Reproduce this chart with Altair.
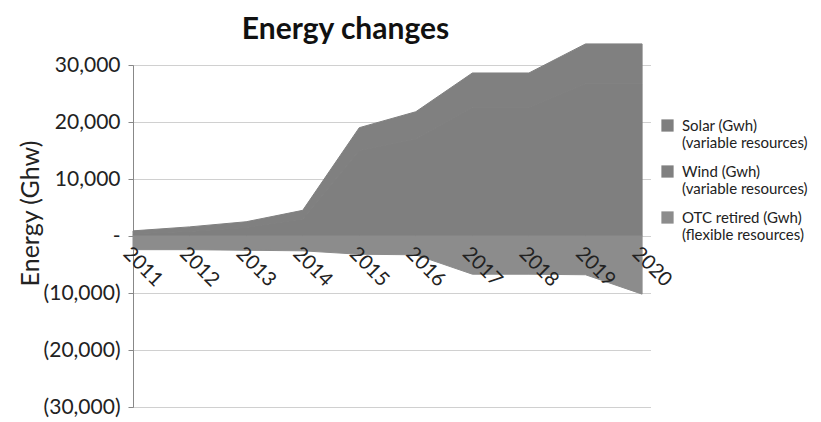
import altair as alt
import pandas as pd

years = [2011, 2012, 2013, 2014, 2015, 2016, 2017, 2018, 2019, 2020]
series = ["Solar (Gwh)", "Wind (Gwh)", "OTC retired (Gwh)"]
subtitles = ["(variable resources)", "(variable resources)", "(flexible resources)"]
solar = [400, 800, 1500, 3000, 15000, 17000, 22600, 22600, 26700, 26700]
wind = [500, 800, 1000, 1500, 4000, 4800, 6000, 6000, 7000, 7000]
otc = [-2400, -2400, -2500, -2600, -3200, -3300, -6700, -6700, -6800, -10200]
colors = ["#7f7f7f", "#808080", "#8c8c8c"]

rows = []
for i, y in enumerate(years):
    for k, (name, vals) in enumerate(zip(series, [solar, wind, otc])):
        rows.append({"year": y, "series": name, "value": vals[i], "order": k})
df = pd.DataFrame(rows)

FONT = "Lato"

label_expr = " : ".join(
    [f"datum.label == '{s}' ? ['{s}', '{t}']" for s, t in zip(series, subtitles)]
) + " : datum.label"

y_label_expr = (
    "datum.value == 0 ? '-\u00a0\u00a0\u00a0\u00a0' : "
    "datum.value < 0 ? '(' + format(-datum.value, ',') + ')' : format(datum.value, ',')"
)

color_scale = alt.Scale(domain=series, range=colors)

area = alt.Chart(df).mark_area(line=False, opacity=1, strokeWidth=1).encode(
    x=alt.X(
        "year:Q",
        scale=alt.Scale(domain=[2011, 2020.14], nice=False, zero=False),
        axis=alt.Axis(
            values=years,
            format="d",
            title=None,
            grid=False,
            domain=False,
            ticks=False,
            offset=-172,
            zindex=1,
            labelAngle=45,
            labelAlign="left",
            labelBaseline="top",
            labelPadding=8,
            labelFontSize=20,
            labelFont=FONT,
            labelColor="#222222",
            labelOverlap=False,
        ),
    ),
    y=alt.Y(
        "value:Q",
        stack="zero",
        scale=alt.Scale(domain=[-30000, 30000], nice=False),
        axis=alt.Axis(
            values=[-30000, -20000, -10000, 0, 10000, 20000, 30000],
            labelExpr=y_label_expr,
            title="Energy (Ghw)",
            titleFont=FONT,
            titleFontSize=25,
            titleFontWeight="normal",
            titleColor="#222222",
            titleAngle=-90,
            titleX=-103,
            titleY=148,
            titleAlign="center",
            titleBaseline="middle",
            labelFont=FONT,
            labelFontSize=21,
            labelColor="#222222",
            labelPadding=8,
            tickSize=5,
            tickColor="#888888",
            domainColor="#888888",
            gridColor="#a0a0a0",
            gridDash=[1, 1],
        ),
    ),
    color=alt.Color(
        "series:N",
        scale=color_scale,
        legend=alt.Legend(
            title=None,
            orient="none",
            legendX=527,
            legendY=53,
            symbolType="square",
            symbolSize=150,
            symbolStrokeWidth=0,
            labelFont=FONT,
            labelFontSize=15,
            labelColor="#222222",
            labelExpr=label_expr,
            labelLimit=300,
            labelOffset=7,
            rowPadding=13,
        ),
    ),
    stroke=alt.Stroke("series:N", scale=color_scale, legend=None),
    order=alt.Order("order:Q"),
)

chart = area.properties(
    width=517,
    height=342,
    padding={"left": 125, "top": 57, "right": 163, "bottom": 14},
    autosize=alt.AutoSizeParams(type="none"),
    title=alt.TitleParams(
        "Energy changes",
        font=FONT,
        fontSize=30,
        fontWeight="bold",
        color="#111111",
        anchor="middle",
        frame="group",
        dx=-46,
        offset=-3,
    ),
).configure_view(stroke=None)

chart.save("out.html", embed_options={"renderer": "svg", "actions": False})
